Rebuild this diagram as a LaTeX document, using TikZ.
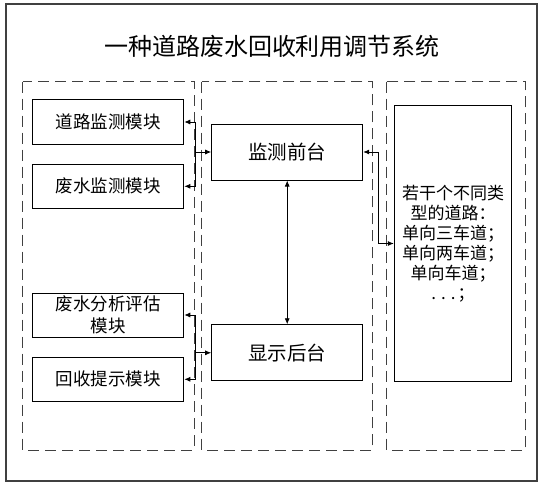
\documentclass[tikz,border=0pt]{standalone}
\usepackage{fontspec}
\newfontfamily\cjk{Noto Sans CJK SC}
\usepackage{tikz}
\usetikzlibrary{arrows.meta}

\begin{document}
\begin{tikzpicture}[x=1pt, y=-1pt,
		box/.style = {draw, line width=1pt, inner sep=0pt, minimum width=151pt, minimum height=44pt, align=center, font=\cjk\fontsize{17.5}{21.7}\selectfont},
		desk/.style = {box, minimum height=56pt, font=\cjk\fontsize{19.5}{22}\selectfont},
		group/.style = {draw=black!75, line width=1pt, dash pattern=on 11pt off 6pt},
		link/.style = {line width=0.8pt, -{Latex[length=6pt,width=5pt]}},
		duplex/.style = {line width=0.8pt, {Latex[length=6pt,width=5pt]}-{Latex[length=6pt,width=5pt]}}]
		\useasboundingbox (0,0) rectangle (544,487);
		\draw[line width=1.3pt, black!75] (6,4) rectangle (537,481);
		\node[font=\cjk\fontsize{24}{27}\selectfont] (title) at (272,46.5) {一种道路废水回收利用调节系统};
		\draw[group] (22.7,81.7) rectangle (194.3,450);
		\draw[group] (201.7,81.7) rectangle (372.7,450);
		\draw[group] (386.7,81.7) rectangle (525.7,450);
		\node[box] (road) at (108.3,122) {道路监测模块};
		\node[box] (water) at (108.3,186.3) {废水监测模块};
		\node[box] (assess) at (108.3,315) {废水分析评估\\模块};
		\node[box] (remind) at (108.3,379.3) {回收提示模块};
		\node[desk] (front) at (287.2,152) {监测前台};
		\node[desk] (back) at (287.2,352.8) {显示后台};
		\node[box, minimum width=117.4pt, minimum height=275pt, font=\cjk\fontsize{17}{20}\selectfont] (roads) at (453,243.5) {若干个不同类\\型的道路：\\单向三车道；\\单向两车道；\\单向车道；\\.\kern5pt.\kern5pt.\kern2pt；};
		\coordinate (jtop) at (195,152);
		\coordinate (jbot) at (195,352.8);
		\coordinate (jright) at (378.3,152);
		\draw[link] (jtop) -- (front.west);
		\draw[link] (jtop) |- (road.east);
		\draw[link] (jtop) |- (water.east);
		\draw[link] (jbot) -- (back.west);
		\draw[link] (jbot) |- (assess.east);
		\draw[link] (jbot) |- (remind.east);
		\draw[duplex] (front.south) -- (back.north);
		\draw[duplex] (front.east) -- (jright) |- (roads.west);
	\end{tikzpicture}
\end{document}
